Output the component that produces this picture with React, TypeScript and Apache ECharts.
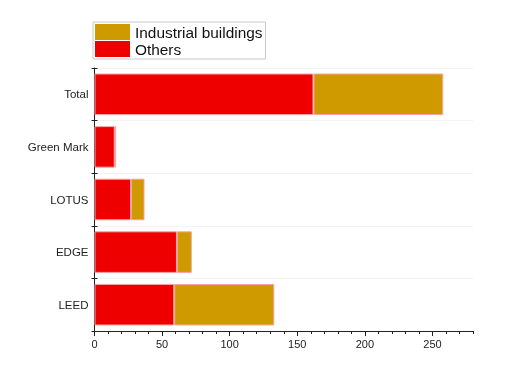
import React, { useEffect, useRef } from "react";
import * as echarts from "echarts";

const categories = ["LEED", "EDGE", "LOTUS", "Green Mark", "Total"];
const othersValues = [59, 61, 27, 15, 162];
const industrialValues = [74, 11, 10, 1, 96];
const xMajorTicks = [0, 50, 100, 150, 200, 250];
const xMax = 280;

const RED = "#ee0000";
const GOLD = "#cf9a00";
const FONT = "'Liberation Sans', Arial, sans-serif";

export default function App() {
  const ref = useRef<HTMLDivElement>(null);
  useEffect(() => {
    if (!ref.current) return;
    const chart = echarts.init(ref.current, undefined, { renderer: "svg" });
    const grid = { left: 94.5, right: 55, top: 68, bottom: 42 };
    chart.setOption({
      animation: false,
      textStyle: { fontFamily: FONT },
      grid,
      legend: {
        orient: "vertical",
        left: 93,
        top: 22,
        padding: [2, 3, 2, 2],
        itemWidth: 35,
        itemHeight: 16,
        itemGap: 1,
        borderColor: "#c8c8c8",
        borderWidth: 1,
        icon: "rect",
        itemStyle: { borderWidth: 0 },
        textStyle: { fontSize: 15.4, color: "#111", lineHeight: 16, fontFamily: FONT },
        data: ["Industrial buildings", "Others"],
      },
      xAxis: [
        {
          type: "value",
          min: 0,
          max: xMax,
          interval: 50,
          position: "bottom",
          axisLine: { show: true, lineStyle: { color: "#222", width: 1 } },
          axisTick: {
            show: true,
            length: 5,
            customValues: xMajorTicks,
            lineStyle: { color: "#222" },
          },
          axisLabel: {
            customValues: xMajorTicks,
            fontSize: 11,
            color: "#222",
            margin: 7,
            fontFamily: FONT,
          },
          splitLine: { show: false },
        },
        {
          type: "value",
          min: 0,
          max: xMax,
          interval: 10,
          position: "bottom",
          offset: 0,
          axisLine: { show: false },
          axisTick: { show: true, length: 3, lineStyle: { color: "#222" } },
          axisLabel: { show: false },
          splitLine: { show: false },
        },
      ],
      yAxis: [
        {
          type: "category",
          data: categories,
          position: "left",
          axisLine: { show: true, lineStyle: { color: "#222", width: 1 } },
          axisTick: { show: true, length: 3, inside: false, lineStyle: { color: "#222" } },
          axisLabel: { fontSize: 11.5, color: "#222", margin: 6, fontFamily: FONT },
          splitLine: { show: true, lineStyle: { color: "#f3f3f3", width: 1 } },
        },
        {
          type: "category",
          data: categories,
          position: "left",
          offset: 0,
          axisLine: { show: false },
          axisTick: { show: true, length: 3, inside: true, lineStyle: { color: "#222" } },
          axisLabel: { show: false },
          splitLine: { show: false },
        },
      ],
      series: [
        {
          name: "Others",
          type: "bar",
          stack: "total",
          xAxisIndex: 0,
          yAxisIndex: 0,
          data: othersValues,
          barCategoryGap: "21%",
          itemStyle: { color: RED, borderColor: "#f7a3a3", borderWidth: 1 },
        },
        {
          name: "Industrial buildings",
          type: "bar",
          stack: "total",
          xAxisIndex: 0,
          yAxisIndex: 0,
          data: industrialValues,
          barCategoryGap: "21%",
          itemStyle: { color: GOLD, borderColor: "#f7a3a3", borderWidth: 1 },
        },
      ],
    });
    return () => chart.dispose();
  }, []);
  return (
    <div
      ref={ref}
      style={{ position: "fixed", left: 0, top: 0, width: 528, height: 373 }}
    />
  );
}
